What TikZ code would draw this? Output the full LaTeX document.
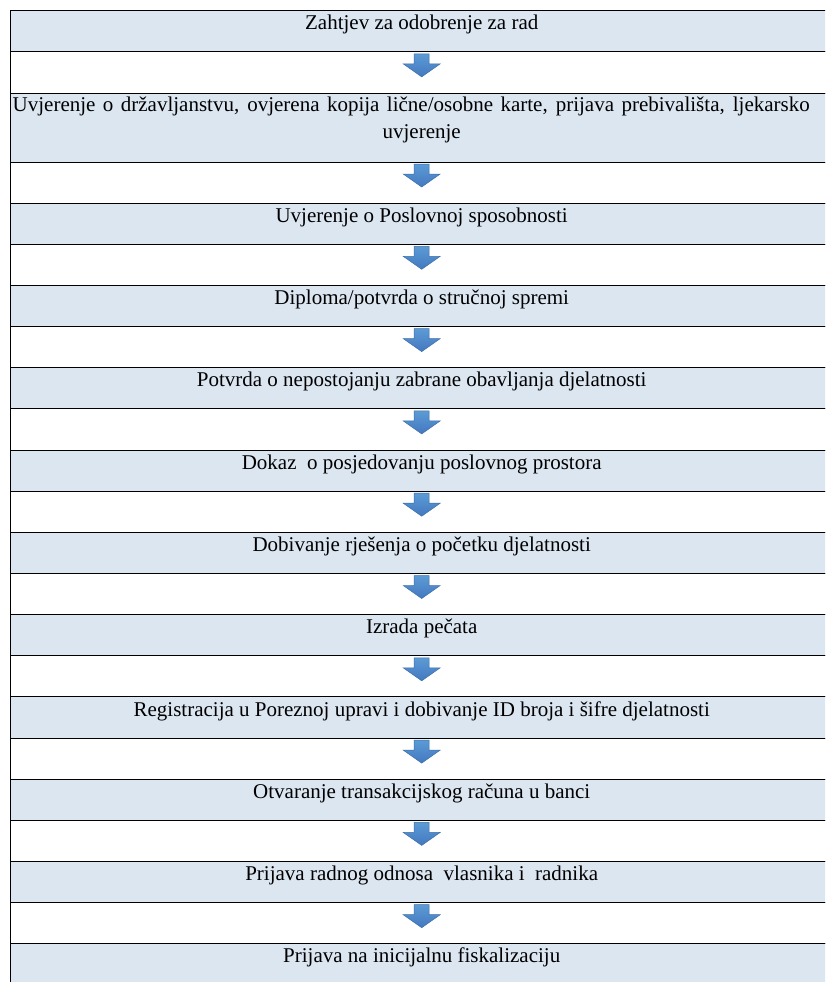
\documentclass[tikz,border=0pt]{standalone}
\usepackage{fontspec}
\setmainfont{Liberation Serif}
\usepackage{tikz}
\usetikzlibrary{positioning}
\definecolor{cellblue}{HTML}{DCE6F1}
\definecolor{arrowtop}{HTML}{5B9BD5}
\definecolor{arrowbottom}{HTML}{4478C0}
\definecolor{arrowedge}{HTML}{3D6FA8}
\tikzset{
    table-row/.style = {draw=black, line width=1pt, rectangle, minimum width=822pt, minimum height=41.15pt, inner sep=0pt, outer sep=0pt},
    step-row/.style = {table-row, fill=cellblue, font=\fontsize{21}{26.7}\selectfont, align=center, text height=16pt, text depth=19pt},
    gap-row/.style = {table-row, fill=white},
    pics/down-arrow/.style = {code = {
        \draw [top color=arrowtop, bottom color=arrowbottom, draw=arrowedge, line width=0.5pt]
            (-7.5,2) -- (7.5,2) -- (7.5,12) -- (18.5,12) -- (0,25) -- (-18.5,12) -- (-7.5,12) -- cycle;
    }},
}
\begin{document}
\begin{tikzpicture}[x=1pt, y=-1pt]
\useasboundingbox (0,0) rectangle (825,982);
\clip (0,0) rectangle (825,982);

\node [step-row, anchor=north] (row1) at (421.7,10.7) {Zahtjev za odobrenje za rad};
\node [gap-row, below=0pt of row1] (gap1) {};
\node [step-row, below=0pt of gap1, minimum height=69pt, text height=42.7pt, text depth=21.7pt] (row2) {\makebox[818pt][l]{\makebox[797pt][s]{Uvjerenje o državljanstvu, ovjerena kopija lične/osobne karte, prijava prebivališta, ljekarsko}}\\uvjerenje};
\node [gap-row, below=0pt of row2] (gap2) {};
\node [step-row, below=0pt of gap2] (row3) {Uvjerenje o Poslovnoj sposobnosti};
\node [gap-row, below=0pt of row3] (gap3) {};
\node [step-row, below=0pt of gap3] (row4) {Diploma/potvrda o stručnoj spremi};
\node [gap-row, below=0pt of row4] (gap4) {};
\node [step-row, below=0pt of gap4] (row5) {Potvrda o nepostojanju zabrane obavljanja djelatnosti};
\node [gap-row, below=0pt of row5] (gap5) {};
\node [step-row, below=0pt of gap5] (row6) {Dokaz\ \ o posjedovanju poslovnog prostora};
\node [gap-row, below=0pt of row6] (gap6) {};
\node [step-row, below=0pt of gap6] (row7) {Dobivanje rješenja o početku djelatnosti};
\node [gap-row, below=0pt of row7] (gap7) {};
\node [step-row, below=0pt of gap7] (row8) {Izrada pečata};
\node [gap-row, below=0pt of row8] (gap8) {};
\node [step-row, below=0pt of gap8] (row9) {Registracija u Poreznoj upravi i dobivanje ID broja i šifre djelatnosti};
\node [gap-row, below=0pt of row9] (gap9) {};
\node [step-row, below=0pt of gap9] (row10) {Otvaranje transakcijskog računa u banci};
\node [gap-row, below=0pt of row10] (gap10) {};
\node [step-row, below=0pt of gap10] (row11) {Prijava radnog odnosa\ \ vlasnika i\ \ radnika};
\node [gap-row, below=0pt of row11] (gap11) {};
\node [step-row, below=0pt of gap11] (row12) {Prijava na inicijalnu fiskalizaciju};

% arrows between the steps
\pic at (gap1.north) {down-arrow};
\pic at (gap2.north) {down-arrow};
\pic at (gap3.north) {down-arrow};
\pic at (gap4.north) {down-arrow};
\pic at (gap5.north) {down-arrow};
\pic at (gap6.north) {down-arrow};
\pic at (gap7.north) {down-arrow};
\pic at (gap8.north) {down-arrow};
\pic at (gap9.north) {down-arrow};
\pic at (gap10.north) {down-arrow};
\pic at (gap11.north) {down-arrow};
\end{tikzpicture}
\end{document}
